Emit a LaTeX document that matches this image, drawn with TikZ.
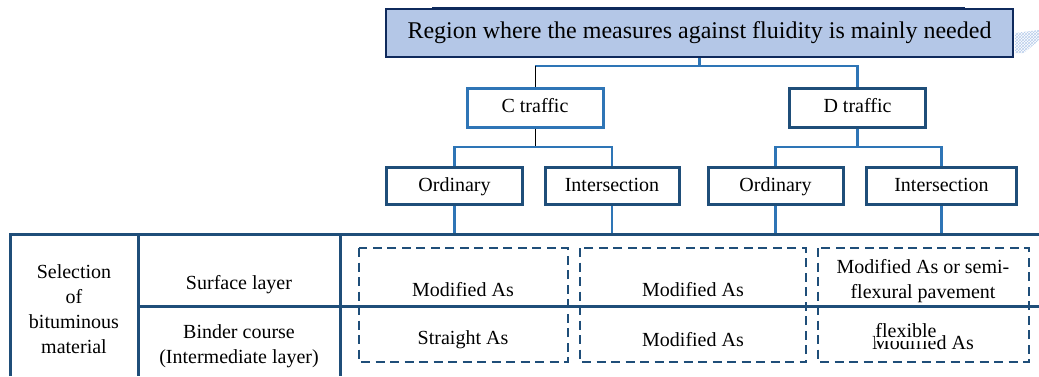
\documentclass[tikz,border=0pt]{standalone}
\usepackage{fontspec}
\setmainfont{Liberation Serif}
\usetikzlibrary{positioning, patterns}
\definecolor{navy}{HTML}{1F4E79}
\definecolor{deepnavy}{HTML}{0F2A5C}
\definecolor{midblue}{HTML}{2E75B6}
\definecolor{paleblue}{HTML}{B4C7E7}
\definecolor{hatchblue}{HTML}{B9CDEB}
\tikzset{
  headbox/.style={draw=deepnavy, fill=paleblue, line width=2.5pt,
    minimum width=627pt, minimum height=48pt, inner sep=0pt,
    font=\fontsize{24}{26}\selectfont},
  trafficbox/.style={fill=white, line width=3pt, minimum width=136pt,
    minimum height=39pt, inner sep=0pt, text height=14pt, text depth=4pt},
  casebox/.style={draw=navy, fill=white, line width=3pt,
    minimum height=37pt, inner sep=0pt, text height=14pt, text depth=4pt},
  link/.style={draw=midblue, line width=2.2pt},
  thinlink/.style={draw=black, line width=1pt},
  rule/.style={draw=navy, line width=3pt},
  choice/.style={draw=navy, line width=2.6pt, dash pattern=on 9pt off 5.5pt},
  cell/.style={align=center, inner sep=0pt, font=\fontsize{20}{25}\selectfont}
}
\begin{document}
\begin{tikzpicture}[x=1pt, y=-1pt, font=\fontsize{20}{24}\selectfont]
\useasboundingbox (0,0) rectangle (1039,376);
% Shadow edge and hatch beside the heading
\draw[deepnavy, line width=1pt] (432,7) -- (965,7);
\fill[pattern=crosshatch, pattern color=hatchblue]
  (1015,33) -- (1039,30) -- (1039,40) -- (1024,53) -- (1015,53) -- cycle;
% Heading
\node[headbox] (top) at (699.5,33) {Region where the measures against fluidity is mainly needed};
% Traffic classes
\node[trafficbox, draw=midblue] (ctr) at (535,107.5) {C traffic};
\node[trafficbox, draw=navy] (dtr) at (857.5,107.5) {D traffic};
% Road sections
\node[casebox, minimum width=136pt] (cord) at (454.5,186) {Ordinary};
\node[casebox, minimum width=134pt] (cint) at (612,186) {Intersection};
\node[casebox, minimum width=135pt] (dord) at (775.5,186) {Ordinary};
\node[casebox, minimum width=150pt] (dint) at (941.5,186) {Intersection};
% Connectors
\coordinate (barA) at (0,66);
\coordinate (barB) at (0,147);
\coordinate (tabtop) at (0,234);
\draw[link] (top.south) -- (top.south |- barA);
\draw[link] (ctr.north |- barA) -| (dtr.north);
\draw[thinlink] (ctr.north |- barA) -- (ctr.north);
\draw[thinlink] (ctr.south) -- (ctr.south |- barB);
\draw[link] (cord.north) |- (ctr.south |- barB) -| (cint.north);
\draw[link] (dtr.south) -- (dtr.south |- barB);
\draw[link] (dord.north) |- (dtr.south |- barB) -| (dint.north);
\foreach \n in {cord, cint, dord, dint}
  \draw[link] (\n.south) -- (\n.south |- tabtop);
% Table frame
\draw[rule] (10,376) -- (10,234) -- (1039,234);
\draw[rule] (138,234) -- (138,376);
\draw[rule] (340,234) -- (340,376);
\draw[rule] (138,306.5) -- (1039,306.5);
% Row labels
\node[cell] (sel) at (74,309) {Selection\\of\\bituminous\\material};
\node[cell] (surf) at (239,285) {Surface layer};
\node[cell] (bind) at (239,346) {Binder course\\(Intermediate layer)};
% Chosen materials
\draw[choice] (359,248) rectangle (568,362);
\draw[choice] (580,248) rectangle (806,362);
\draw[choice] (818,248) rectangle (1029,362);
\node[cell] (m1) at (463,290) {Modified As};
\node[cell] (m2) at (693,290) {Modified As};
\node[cell] (m3) at (923,281) {Modified As or semi-\\flexural pavement};
\node[cell] (s1) at (463,340) {Straight As};
\node[cell] (m4) at (693,340) {Modified As};
\node[cell, anchor=base] (m5) at (923,349) {Modified As};
\node[cell, anchor=base, fill=white, inner ysep=3.5pt] (flex) at (906,337) {flexible};
\end{tikzpicture}
\end{document}
